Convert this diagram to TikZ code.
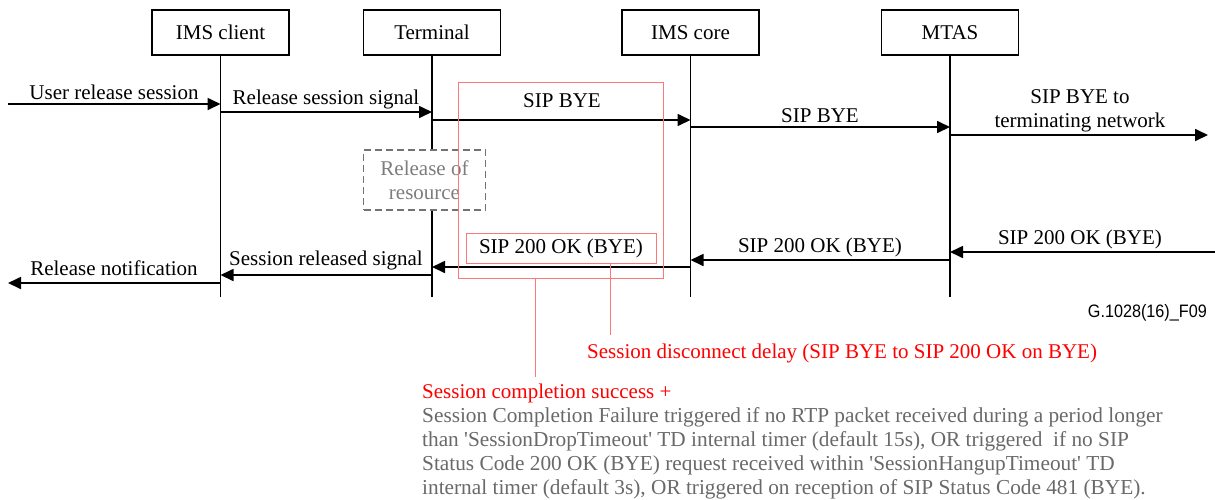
\documentclass[tikz,border=0pt]{standalone}
\usepackage{fontspec}
\setmainfont{Liberation Serif}
\newfontfamily\tagsans[FakeStretch=0.9]{Liberation Sans}
\usetikzlibrary{arrows.meta}

\definecolor{notegrey}{RGB}{105,105,105}
\definecolor{resgrey}{RGB}{125,125,125}
\definecolor{dashgrey}{RGB}{115,115,115}
\definecolor{markred}{RGB}{255,0,0}
\definecolor{framered}{RGB}{252,120,120}

\begin{document}
\begin{tikzpicture}[x=1pt,y=-1pt,
  every node/.style={font=\fontsize{21}{24}\selectfont, inner sep=0pt},
  entity/.style={draw, line width=1.4pt, minimum width=137pt, minimum height=45pt},
  lifeline/.style={line width=1.4pt},
  msg/.style={line width=1.7pt, -{Triangle[length=13pt,width=12pt]}},
  lbl/.style={anchor=base},
  resbox/.style={draw=dashgrey, dashed, dash pattern=on 7pt off 4pt, line width=1.5pt,
    minimum width=122pt, minimum height=60pt, text=resgrey, align=center},
  frame/.style={draw=framered, line width=1pt},
  redline/.style={draw=framered, line width=1pt},
  rednote/.style={text=markred, anchor=base west},
]
\useasboundingbox (0,0) rectangle (1215,499);

% entities
\node[entity] (client) at (220.5,32.5) {IMS client};
\node[entity] (term)   at (432,32.5)   {Terminal};
\node[entity] (core)   at (690.5,32.5) {IMS core};
\node[entity] (mtas)   at (950,32.5)   {MTAS};

% lifeline ends
\coordinate (clientEnd) at (220.5,297);
\coordinate (termEnd)   at (432,297);
\coordinate (coreEnd)   at (690.5,297);
\coordinate (mtasEnd)   at (950,297);

% release of resource on the terminal
\node[resbox] (res) at (424.5,180) {Release of\\resource};

\draw[lifeline] (client.south) -- (clientEnd);
\draw[lifeline] (term.south) -- (term.south |- res.north);
\draw[lifeline] (term.south |- res.south) -- (termEnd);
\draw[lifeline] (core.south) -- (coreEnd);
\draw[lifeline] (mtas.south) -- (mtasEnd);

% message anchor points
\coordinate (userIn)  at (8,104);
\coordinate (cl1)     at (220.5,104);
\coordinate (cl2)     at (220.5,112);
\coordinate (te2)     at (432,112);
\coordinate (te3)     at (432,120);
\coordinate (co3)     at (690.5,120);
\coordinate (co4)     at (690.5,127);
\coordinate (mt4)     at (950,127);
\coordinate (mt5)     at (950,135);
\coordinate (netOut)  at (1208,135);
\coordinate (netIn)   at (1215,252);
\coordinate (mt6)     at (950,252);
\coordinate (mt7)     at (950,260);
\coordinate (co7)     at (690.5,260);
\coordinate (co8)     at (690.5,267);
\coordinate (te8)     at (432,267);
\coordinate (te9)     at (432,275);
\coordinate (cl9)     at (220.5,275);
\coordinate (cl10)    at (220.5,283);
\coordinate (userOut) at (8,283);

% session release
\draw[msg] (userIn) -- (cl1);
\node[lbl] (m1) at (114,99) {User release session};
\draw[msg] (cl2) -- (te2);
\node[lbl] (m2) at (326,104) {Release session signal};
\draw[msg] (te3) -- (co3);
\node[lbl] (m3) at (562,107) {SIP BYE};
\draw[msg] (co4) -- (mt4);
\node[lbl] (m4) at (820,122) {SIP BYE};
\draw[msg] (mt5) -- (netOut);
\node[lbl, align=center] (m5) at (1080,127) {SIP BYE to\\terminating network};

% acknowledgements
\draw[msg] (netIn) -- (mt6);
\node[lbl] (m6) at (1080,244) {SIP 200 OK (BYE)};
\draw[msg] (mt7) -- (co7);
\node[lbl] (m7) at (820,252) {SIP 200 OK (BYE)};
\draw[msg] (co8) -- (te8);
\node[frame, minimum width=190pt, minimum height=30pt] (okbox) at (561,248) {SIP 200 OK (BYE)};
\draw[msg] (te9) -- (cl9);
\node[lbl] (m9) at (326,265) {Session released signal};
\draw[msg] (cl10) -- (userOut);
\node[lbl] (m10) at (114,275) {Release notification};

% measurement window
\node[frame, minimum width=205pt, minimum height=196pt] (window) at (560.5,180) {};

\coordinate (sddEnd) at (610,335);
\coordinate (scsEnd) at (535,377);
\draw[redline] (okbox.south -| sddEnd) -- (sddEnd);
\draw[redline] (window.south -| scsEnd) -- (scsEnd);

\node[anchor=base east, font=\tagsans\fontsize{18}{20}\selectfont] (tag) at (1207,317) {G.1028(16)\_F09};

\node[rednote] (sdd) at (587,358) {Session disconnect delay (SIP BYE to SIP 200 OK on BYE)};
\node[rednote] (scs) at (422,398) {Session completion success +};
\node[anchor=base west, align=left, text=notegrey, font=\fontsize{21.3}{24}\selectfont] (scf) at (422,494)
  {Session Completion Failure triggered if no RTP packet received during a period longer\\
   than \textquotesingle SessionDropTimeout\textquotesingle{} TD internal timer (default 15s), OR triggered\ \ if no SIP\\
   Status Code 200 OK (BYE) request received within \textquotesingle SessionHangupTimeout\textquotesingle{} TD\\
   internal timer (default 3s), OR triggered on reception of SIP Status Code 481 (BYE).};
\end{tikzpicture}
\end{document}
